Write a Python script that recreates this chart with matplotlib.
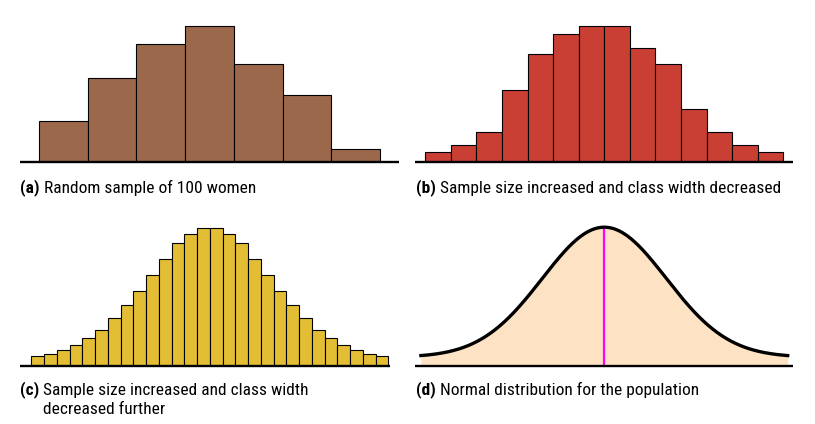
import numpy as np
import matplotlib
matplotlib.use("Agg")
import matplotlib.pyplot as plt
from matplotlib import font_manager

FIG_W, FIG_H = 815, 424

# relative class heights (tallest class = 100)
heights_a = [30, 62, 87, 100, 72, 49, 9]
heights_b = [7, 12, 22, 53, 79, 94, 100, 100, 84, 72, 39, 22, 12, 7]
heights_c = [6.8, 8.2, 11.1, 14.8, 19.9, 25.7, 34.4, 43.9, 54.1, 65.8, 77.4, 89.1, 95.6, 100,
             100, 95.6, 89.1, 77.4, 65.8, 54.1, 43.9, 34.4, 25.7, 19.9, 14.8, 11.1, 8.2, 6.8]

# population curve for panel (d)
pop_mean = 0.0
pop_sd = 1.0
pop_span = 2.96  # in sd units either side of the mean

labels = [
    ("(a)", "Random sample of 100 women"),
    ("(b)", "Sample size increased and class width decreased"),
    ("(c)", "Sample size increased and class width\ndecreased further"),
    ("(d)", "Normal distribution for the population"),
]

col_a = "#9C684C"
col_b = "#C93F33"
col_c = "#E3BE35"
col_d = "#FDE3C3"
col_mean = "#FF00FF"


def pick_font():
    names = {f.name for f in font_manager.fontManager.ttflist}
    for name in ["Liberation Sans Narrow", "DejaVu Sans Condensed", "Roboto Condensed", "Liberation Sans"]:
        if name in names:
            return name
    return "DejaVu Sans"


FONT = pick_font()
plt.rcParams["font.family"] = [FONT, "DejaVu Sans"]


def px_axes(fig, x0, x1, base_y, h=150):
    # pixel box (from top-left) -> figure fraction
    return fig.add_axes([x0 / FIG_W, (FIG_H - base_y) / FIG_H, (x1 - x0) / FIG_W, h / FIG_H])


def clean(ax):
    for s in ["top", "left", "right"]:
        ax.spines[s].set_visible(False)
    ax.spines["bottom"].set_linewidth(1.7)
    ax.spines["bottom"].set_capstyle("butt")
    ax.set_xticks([])
    ax.set_yticks([])
    ax.patch.set_alpha(0)


def hist_panel(fig, heights, color, x0, x1, bar0, bar1, base_y, peak_px):
    ax = px_axes(fig, x0, x1, base_y)
    n = len(heights)
    w = (bar1 - bar0) / n
    ax.bar(np.arange(n), heights, width=1.0, align="edge", color=color,
           edgecolor="black", linewidth=0.8)
    ax.set_xlim(-(bar0 - x0) / w, n + (x1 - bar1) / w)
    ax.set_ylim(0, 150 / (peak_px / 100))
    clean(ax)
    return ax


def label(fig, x, base_y, bold, rest):
    t = fig.text(x / FIG_W, (FIG_H - base_y) / FIG_H, bold, fontsize=12.5,
                 fontweight="bold", va="baseline", ha="left")
    fig.canvas.draw()
    r = fig.canvas.get_renderer()
    bb = t.get_window_extent(r)
    fig.text((bb.x1 + 4) / FIG_W, (FIG_H - base_y) / FIG_H, rest.split("\n")[0],
             fontsize=12.5, va="baseline", ha="left")
    for i, line in enumerate(rest.split("\n")[1:], start=1):
        fig.text((bb.x1 + 4) / FIG_W, (FIG_H - base_y - 19.5 * i) / FIG_H, line,
                 fontsize=12.5, va="baseline", ha="left")


fig = plt.figure(figsize=(FIG_W / 100, FIG_H / 100), dpi=100)

hist_panel(fig, heights_a, col_a, 20, 399, 39, 380, 161.7, 135.7)
hist_panel(fig, heights_b, col_b, 415, 793, 425.3, 783.3, 161.7, 135.7)
hist_panel(fig, heights_c, col_c, 20, 390, 31.3, 388.3, 365.7, 137.3)

# (d) normal curve
ax = px_axes(fig, 415, 793, 365.7)
xs = np.linspace(pop_mean - pop_span * pop_sd, pop_mean + pop_span * pop_sd, 400)
ys = 100 * np.exp(-0.5 * ((xs - pop_mean) / pop_sd) ** 2)
unit = 130 / 100  # px per unit
lift = 8.5 / unit
ax.set_ylim(-lift, 150 / unit - lift)
half = pop_span * pop_sd
sd_px = 183.4 / pop_span
ax.set_xlim(pop_mean - (604.3 - 415) / sd_px, pop_mean + (793 - 604.3) / sd_px)
ax.fill_between(xs, ys, -lift, color=col_d, linewidth=0)
ax.plot([pop_mean, pop_mean], [-lift, 100], color=col_mean, linewidth=1.6, solid_capstyle="butt")
ax.plot(xs, ys, color="black", linewidth=2.4)
clean(ax)

label(fig, 20, 192.7, *labels[0])
label(fig, 416, 192.7, *labels[1])
label(fig, 20, 394.5, *labels[2])
label(fig, 416, 394.5, *labels[3])

fig.savefig("out.png", dpi=100)
